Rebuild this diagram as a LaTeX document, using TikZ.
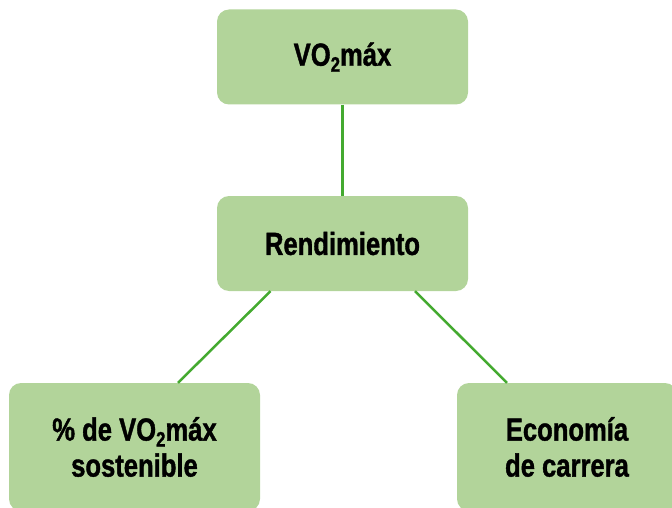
\documentclass[tikz,border=0pt]{standalone}
\usepackage{fontspec}
\setmainfont{Liberation Sans}[FakeStretch=0.8,BoldFeatures={FakeBold=1.2}]
\usepackage{tikz}
\definecolor{boxgreen}{RGB}{178,212,154}
\definecolor{linegreen}{RGB}{68,170,48}
\newcommand{\lowsub}[1]{\raisebox{-6pt}{\fontsize{21}{21}\selectfont #1}}
\newcommand{\vomax}{VO\lowsub{2}máx}

\begin{document}
\begin{tikzpicture}[x=1pt,y=-1pt,
  box/.style={rectangle,rounded corners=12pt,fill=boxgreen,text=black,inner sep=0pt,
    font=\fontsize{32}{36}\selectfont\bfseries,align=center,
    minimum width=251pt,minimum height=95pt},
  link/.style={draw=linegreen,line width=2.5pt}]
\useasboundingbox (0,0) rectangle (672,508);
\clip (0,0) rectangle (672,508);
\node[box] (VO) at (342.5,57) {\vomax};
\node[box] (Rend) at (342.5,243.5) {Rendimiento};
\node[box,minimum height=128pt] (Sost) at (134.5,447) {\% de \vomax\\sostenible};
\node[box,minimum width=220pt,minimum height=128pt] (Econ) at (567,447) {Economía\\de carrera};
\draw[link] (VO.south) -- (Rend.north);
\draw[link] ([xshift=-72pt]Rend.south) -- ([xshift=43.5pt]Sost.north);
\draw[link] ([xshift=72.5pt]Rend.south) -- ([xshift=-60pt]Econ.north);
\end{tikzpicture}
\end{document}
